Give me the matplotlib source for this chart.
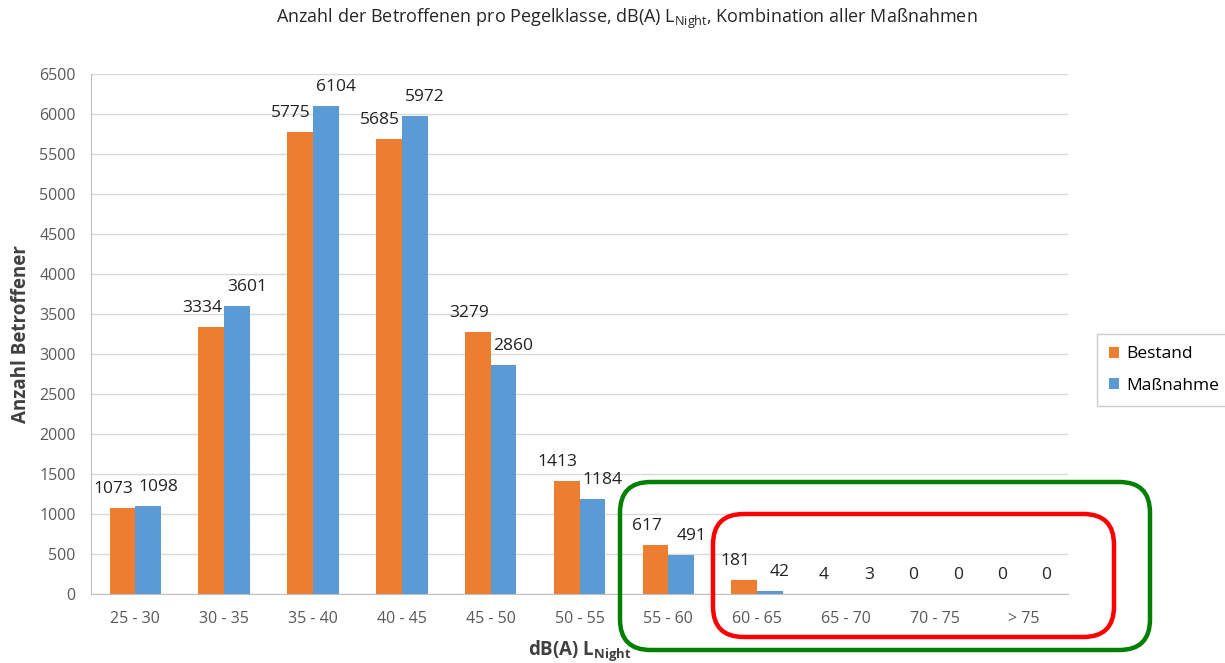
import matplotlib.pyplot as plt
import numpy as np
from matplotlib.patches import FancyBboxPatch

plt.rcParams['font.family'] = ['Open Sans', 'DejaVu Sans']
plt.rcParams['mathtext.fontset'] = 'custom'
plt.rcParams['mathtext.rm'] = 'Open Sans'
plt.rcParams['mathtext.bf'] = 'Open Sans:bold'
plt.rcParams['mathtext.default'] = 'regular'

classes = ['25 - 30', '30 - 35', '35 - 40', '40 - 45', '45 - 50', '50 - 55',
           '55 - 60', '60 - 65', '65 - 70', '70 - 75', '> 75']
bestand = [1073, 3334, 5775, 5685, 3279, 1413, 617, 181, 4, 0, 0]
massnahme = [1098, 3601, 6104, 5972, 2860, 1184, 491, 42, 3, 0, 0]

orange = '#ED7D31'
blue = '#5B9BD5'
grey = '#595959'

fig = plt.figure(figsize=(12.25, 6.63), dpi=100)
ax = fig.add_axes([91/1225, 1 - 594/663, (1068-91)/1225, (594-74)/663])

x = np.arange(len(classes))
w = 0.29
b1 = ax.bar(x - w/2, bestand, w, color=orange, label='Bestand')
b2 = ax.bar(x + w/2, massnahme, w, color=blue, label='Maßnahme')

# labels pushed slightly apart, like Excel does
for bars, vals, dx in [(b1, bestand, -9), (b2, massnahme, 10)]:
    for r, v in zip(bars, vals):
        ax.annotate(str(v), (r.get_x() + r.get_width()/2, v), xytext=(dx, 11),
                    textcoords='offset pixels', ha='center', va='bottom',
                    fontsize=12.5, color='#222222')

ax.set_xlim(-0.5, len(classes) - 0.5)
ax.set_ylim(0, 6500)
ax.set_yticks(np.arange(0, 6501, 500))
ax.set_xticks(x)
ax.set_xticklabels(classes)
ax.tick_params(length=0, labelsize=11.5, labelcolor=grey)
ax.tick_params(axis='x', pad=12)
ax.tick_params(axis='y', pad=11)
ax.grid(axis='y', color='#D9D9D9', linewidth=1)
ax.set_axisbelow(True)
for s in ['top', 'right']:
    ax.spines[s].set_visible(False)
for s in ['left', 'bottom']:
    ax.spines[s].set_color('#BFBFBF')

ax.set_ylabel('Anzahl Betroffener', fontsize=13.5, fontweight='bold', color='#404040', labelpad=6)
ax.set_xlabel(r'dB(A) L$_{\mathbf{Night}}$', fontsize=13.5, fontweight='bold', color='#404040', labelpad=8)
fig.text(0.512, 1 - 19/663, r'Anzahl der Betroffenen pro Pegelklasse, dB(A) L$_{Night}$, Kombination aller Maßnahmen',
         ha='center', va='center', fontsize=13, color='#262626')

leg = fig.legend(loc='center left', bbox_to_anchor=(1088/1225, 1 - 370/663), fontsize=12.5,
                 frameon=True, fancybox=False, edgecolor='#BFBFBF', handlelength=0.6,
                 handleheight=0.6, handletextpad=0.4, labelspacing=0.9, borderpad=0.7)
leg.get_frame().set_linewidth(1)

# highlighted regions
def box(x0, y0, x1, y1, color):
    p = FancyBboxPatch((x0/1225, 1 - y1/663), (x1-x0)/1225, (y1-y0)/663,
                       boxstyle='round,pad=0,rounding_size=0.025', transform=fig.transFigure,
                       fill=False, edgecolor=color, linewidth=3.2, mutation_aspect=1225/663)
    fig.add_artist(p)

box(620, 482, 1150, 650, '#008000')
box(713, 514, 1114, 637, '#FF0000')

fig.savefig('out.png', dpi=100)
